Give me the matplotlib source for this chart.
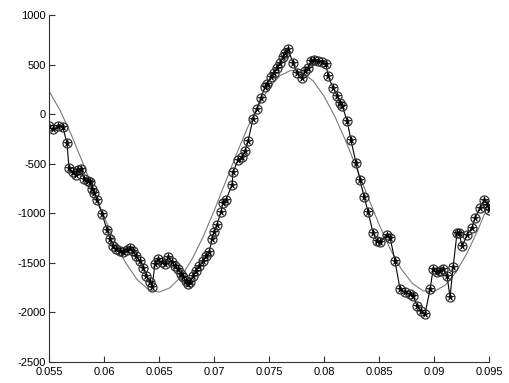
import matplotlib
matplotlib.use('Agg')
from matplotlib import pyplot as plt

# smooth fitted curve, read every 0.001
fit_x = [0.055 + 0.001 * i for i in range(41)]
fit_y = [233, 40, -200, -471, -754, -1033, -1289, -1505, -1668, -1767,
         -1796, -1752, -1640, -1465, -1240, -978, -697, -415, -149, 82,
         266, 388, 442, 424, 335, 181, -28, -279, -555, -839,
         -1113, -1358, -1560, -1705, -1783, -1790, -1726, -1593, -1402, -1165,
         -895]

# measured points
meas_x = [0.05500, 0.05536, 0.05582, 0.05627, 0.05664, 0.05682, 0.05718, 0.05745,
          0.05764, 0.05791, 0.05818, 0.05855, 0.05873, 0.05891, 0.05909, 0.05936,
          0.05982, 0.06027, 0.06055, 0.06082, 0.06109, 0.06145, 0.06173, 0.06209,
          0.06236, 0.06264, 0.06291, 0.06327, 0.06355, 0.06382, 0.06418, 0.06436,
          0.06464, 0.06491, 0.06527, 0.06555, 0.06582, 0.06618, 0.06645, 0.06673,
          0.06700, 0.06718, 0.06745, 0.06764, 0.06782, 0.06809, 0.06836, 0.06864,
          0.06900, 0.06927, 0.06955, 0.06982, 0.07000, 0.07027, 0.07064, 0.07082,
          0.07109, 0.07164, 0.07173, 0.07218, 0.07255, 0.07282, 0.07309, 0.07355,
          0.07391, 0.07427, 0.07464, 0.07482, 0.07518, 0.07545, 0.07573, 0.07600,
          0.07627, 0.07645, 0.07673, 0.07718, 0.07755, 0.07800, 0.07827, 0.07855,
          0.07882, 0.07909, 0.07945, 0.07982, 0.08018, 0.08036, 0.08082, 0.08118,
          0.08145, 0.08164, 0.08209, 0.08245, 0.08291, 0.08327, 0.08364, 0.08400,
          0.08445, 0.08482, 0.08509, 0.08573, 0.08600, 0.08645, 0.08691, 0.08736,
          0.08782, 0.08809, 0.08845, 0.08882, 0.08918, 0.08964, 0.08991, 0.09027,
          0.09055, 0.09082, 0.09118, 0.09145, 0.09173, 0.09209, 0.09227, 0.09255,
          0.09300, 0.09345, 0.09373, 0.09418, 0.09455, 0.09482, 0.09500]
meas_y = [-125, -155, -125, -135, -295, -545, -585, -615,
          -565, -555, -655, -675, -685, -755, -795, -865,
          -1005, -1165, -1265, -1335, -1365, -1385, -1395, -1375,
          -1355, -1385, -1435, -1485, -1555, -1635, -1695, -1745,
          -1515, -1465, -1495, -1515, -1445, -1495, -1535, -1565,
          -1615, -1645, -1685, -1715, -1695, -1635, -1585, -1535,
          -1485, -1435, -1395, -1265, -1185, -1115, -985, -895,
          -865, -715, -585, -465, -435, -375, -275, -45,
          55, 165, 275, 305, 375, 415, 465, 515,
          575, 615, 655, 515, 415, 365, 435, 465,
          535, 545, 535, 525, 505, 385, 265, 185,
          115, 85, -65, -265, -495, -665, -835, -985,
          -1195, -1285, -1295, -1215, -1245, -1485, -1765, -1795,
          -1815, -1835, -1935, -1985, -2015, -1765, -1565, -1595,
          -1585, -1565, -1635, -1845, -1545, -1195, -1195, -1335,
          -1215, -1145, -1045, -945, -865, -915, -965]

plt.rcParams['font.family'] = ['Liberation Sans', 'DejaVu Sans']
plt.rcParams['axes.unicode_minus'] = False

fig = plt.figure(figsize=(5.1, 3.83), dpi=100)
ax = fig.add_axes([0.096, 0.055, 0.863, 0.906])

ax.plot(fit_x, fit_y, color='#7a7a7a', lw=0.8)
ax.plot(meas_x, meas_y, color='black', lw=0.8, marker='o', ms=6.5,
        mfc='none', mec='#333333', mew=0.9)
ax.plot(meas_x, meas_y, ls='none', marker='*', ms=5.5, color='black', mew=0.4)

ax.set_xlim(0.055, 0.095)
ax.set_ylim(-2500, 1000)
ax.set_xticks([0.055, 0.06, 0.065, 0.07, 0.075, 0.08, 0.085, 0.09, 0.095])
ax.set_xticklabels(['0.055', '0.06', '0.065', '0.07', '0.075', '0.08', '0.085', '0.09', '0.095'])
ax.set_yticks(range(-2500, 1001, 500))
ax.spines['top'].set_visible(False)
ax.spines['right'].set_visible(False)
ax.spines['left'].set_color('#333333')
ax.spines['bottom'].set_color('#333333')
ax.tick_params(direction='in', length=4, width=0.8, labelsize=8, color='#333333')
ax.tick_params(axis='y', pad=2)
ax.tick_params(axis='x', pad=3.5)

fig.savefig('out.png', dpi=100)
